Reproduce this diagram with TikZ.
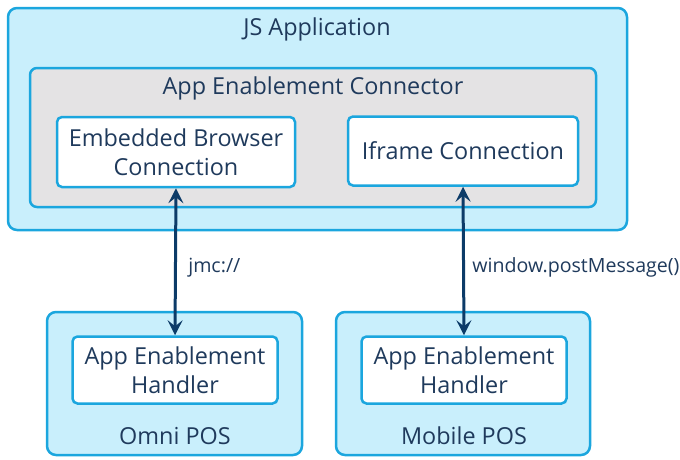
\documentclass[tikz,border=0pt]{standalone}
\usepackage{fontspec}
\setmainfont{Open Sans}
\usepackage{tikz}
\usetikzlibrary{arrows.meta, positioning}

\definecolor{boxline}{HTML}{1BA6DE}
\definecolor{boxfill}{HTML}{C9EFFC}
\definecolor{connfill}{HTML}{E4E3E4}
\definecolor{labeltext}{HTML}{1F3A5C}
\definecolor{arrowcol}{HTML}{0C3B68}

\begin{document}
\begin{tikzpicture}[x=1pt, y=-1pt,
        every node/.style={font=\fontsize{23.4}{28.5}\selectfont, text=labeltext},
        outerbox/.style={draw=boxline, line width=2.5pt, fill=boxfill, rounded corners=9pt},
        connbox/.style={draw=boxline, line width=2.5pt, fill=connfill, rounded corners=7pt},
        innerbox/.style={draw=boxline, line width=2.5pt, fill=white, rounded corners=5pt, align=center},
        link/.style={draw=arrowcol, line width=3pt, {Stealth[length=15pt, width=15pt, inset=6pt]}-{Stealth[length=15pt, width=15pt, inset=6pt]}}]
        \useasboundingbox (0,0) rectangle (680,459);

        % top part
        \draw[outerbox] (8,8) rectangle (627,230);
        \node (js) at (317,29) {JS Application};
        \draw[connbox] (30,68) rectangle (596,207);
        \node (aec) at (313,88) {App Enablement Connector};
        \node[innerbox, minimum width=238pt, minimum height=70pt] (ebc) at (176,152) {Embedded Browser\\Connection};
        \node[innerbox, minimum width=230pt, minimum height=69pt] (ifc) at (463,151) {Iframe Connection};

        % bottom part
        \draw[outerbox] (47,312) rectangle (302,455);
        \draw[outerbox] (336,312) rectangle (590,455);
        \node[innerbox, minimum width=205pt, minimum height=67pt] (omnih) at (175,370) {App Enablement\\Handler};
        \node[innerbox, minimum width=205pt, minimum height=67pt] (mobh) at (464,370) {App Enablement\\Handler};
        \node (omni) at (175,436) {Omni POS};
        \node (mob) at (464,436) {Mobile POS};

        % links
        \draw[link] (ebc.south) -- (omnih.north) node[pos=0.54, right=8pt, font=\fontsize{19.6}{23}\selectfont] {jmc://};
        \draw[link] (ifc.south) -- (mobh.north) node[pos=0.54, right=4pt, font=\fontsize{19.6}{23}\selectfont] {window.postMessage()};
    \end{tikzpicture}
\end{document}
